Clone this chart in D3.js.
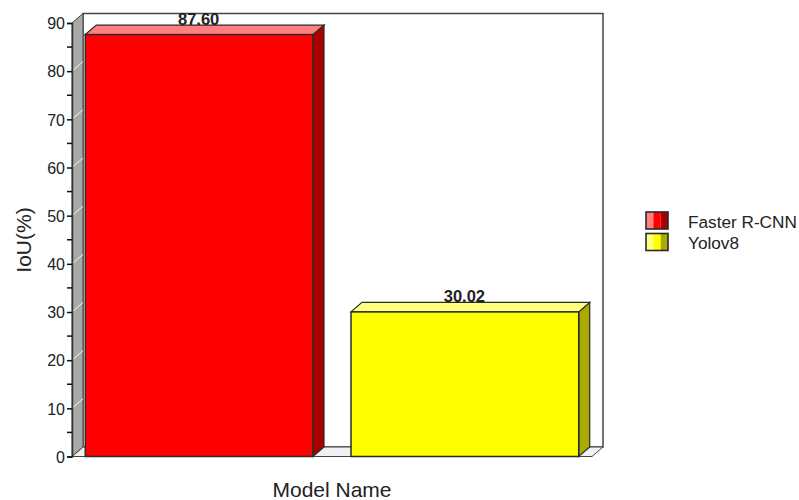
<!DOCTYPE html>
<html>
<head>
<meta charset="utf-8">
<script src="https://cdn.jsdelivr.net/npm/d3@7"></script>
<style>
  html, body { margin: 0; padding: 0; background: #fff; }
  svg { display: block; }
  text { font-family: "Liberation Sans", Arial, sans-serif; fill: #222; }
</style>
</head>
<body>
<svg id="chart" width="799" height="500"></svg>
<script>
const models = ["Faster R-CNN", "Yolov8"];
const iou = [87.60, 30.02];
const frontColors = ["#ff0000", "#ffff00"];
const topColors = ["#ff8080", "#ffff80"];
const sideColors = ["#aa0000", "#aaaa00"];
const yTicks = [0, 10, 20, 30, 40, 50, 60, 70, 80, 90];
const yMinorTicks = [5, 15, 25, 35, 45, 55, 65, 75, 85];
const xTitle = "Model Name";
const yTitle = "IoU(%)";

const depthX = 11, depthY = 9.5;
const stroke = "#2a2a2a";
const svg = d3.select("#chart");

const x = d3.scaleBand().domain(models).range([72, 592]).paddingInner(0.143).paddingOuter(0.05);
const y = d3.scaleLinear().domain([0, 90]).range([456.5, 23]);
const xLeft = x.range()[0], xRight = x.range()[1];
const yBase = y(0), yCeil = y(90);
const poly = pts => pts.map(p => p.join(",")).join(" ");

// Plot box: back wall, left wall and floor
svg.append("rect")
  .attr("x", xLeft + depthX).attr("y", yCeil - depthY)
  .attr("width", xRight - xLeft).attr("height", yBase - yCeil)
  .attr("fill", "#fff").attr("stroke", "#444").attr("stroke-width", 1.5);
svg.append("polygon")
  .attr("points", poly([[xLeft, yBase], [xRight, yBase], [xRight + depthX, yBase - depthY], [xLeft + depthX, yBase - depthY]]))
  .attr("fill", "#f0f0f0").attr("stroke", "#444").attr("stroke-width", 1);
svg.append("polygon")
  .attr("points", poly([[xLeft, yCeil], [xLeft + depthX, yCeil - depthY], [xLeft + depthX, yBase - depthY], [xLeft, yBase]]))
  .attr("fill", "#a8a8a8").attr("stroke", "#444").attr("stroke-width", 1);

// Wall gridlines, running back from each labelled tick
svg.append("g").selectAll("line").data(yTicks.filter(t => t > 0 && t < 90)).join("line")
  .attr("x1", xLeft).attr("x2", xLeft + depthX)
  .attr("y1", d => y(d)).attr("y2", d => y(d) - depthY)
  .attr("stroke", "#f4f4f4").attr("stroke-width", 1);

// Bars: side and top faces behind the front face
const bars = svg.append("g").selectAll("g").data(models).join("g");
bars.append("polygon")
  .attr("points", (d, i) => {
    const xr = x(d) + x.bandwidth(), yt = y(iou[i]);
    return poly([[xr, yt], [xr + depthX, yt - depthY], [xr + depthX, yBase - depthY], [xr, yBase]]);
  })
  .attr("fill", (d, i) => sideColors[i]).attr("stroke", stroke).attr("stroke-width", 1.2);
bars.append("polygon")
  .attr("points", (d, i) => {
    const xl = x(d), xr = xl + x.bandwidth(), yt = y(iou[i]);
    return poly([[xl, yt], [xl + depthX, yt - depthY], [xr + depthX, yt - depthY], [xr, yt]]);
  })
  .attr("fill", (d, i) => topColors[i]).attr("stroke", stroke).attr("stroke-width", 1.2);
bars.append("rect")
  .attr("x", d => x(d)).attr("y", (d, i) => y(iou[i]))
  .attr("width", x.bandwidth()).attr("height", (d, i) => yBase - y(iou[i]))
  .attr("fill", (d, i) => frontColors[i]).attr("stroke", stroke).attr("stroke-width", 1.5);

// Value labels centred over each bar, resting on the top face
bars.append("text")
  .attr("x", d => x(d) + x.bandwidth() / 2 - 0.5)
  .attr("y", (d, i) => y(iou[i]) - depthY)
  .attr("text-anchor", "middle")
  .attr("font-size", 16.5).attr("font-weight", "bold")
  .text((d, i) => d3.format(".2f")(iou[i]));

// Value axis
const axisG = svg.append("g").attr("transform", `translate(${xLeft},0)`);
axisG.call(d3.axisLeft(y).tickValues(yTicks).tickSize(5).tickPadding(2));
axisG.selectAll(".tick text").attr("font-size", 16).style("font-family", '"Liberation Sans", Arial, sans-serif').attr("fill", "#222").attr("dy", "0.36em");
axisG.select(".domain").attr("stroke", "#333").attr("stroke-width", 1.5);
axisG.selectAll(".tick line").attr("stroke", "#111").attr("stroke-width", 1.5);
axisG.selectAll(".minor").data(yMinorTicks).join("line").attr("class", "minor")
  .attr("x1", -5).attr("x2", 0)
  .attr("y1", d => y(d)).attr("y2", d => y(d))
  .attr("stroke", "#111").attr("stroke-width", 1.5);

// Axis titles
svg.append("text").attr("x", 332).attr("y", 497).attr("text-anchor", "middle").attr("font-size", 21).text(xTitle);
svg.append("text").attr("transform", "translate(31,240) rotate(-90)").attr("text-anchor", "middle").attr("font-size", 21).text(yTitle);

// Legend with a three-tone swatch for each model
const legendY = d3.scalePoint().domain(models).range([212, 233.5]);
const swatchX = d3.scaleBand().domain(d3.range(3)).range([646, 668]);
const legend = svg.append("g").selectAll("g").data(models).join("g");
legend.each(function (d, i) {
  const g = d3.select(this);
  const tones = [topColors[i], frontColors[i], sideColors[i]];
  g.selectAll("rect").data(tones).join("rect")
    .attr("x", (c, k) => swatchX(k)).attr("y", legendY(d))
    .attr("width", swatchX.bandwidth()).attr("height", 17)
    .attr("fill", c => c);
  g.append("rect").attr("x", 646).attr("y", legendY(d)).attr("width", 22).attr("height", 17)
    .attr("fill", "none").attr("stroke", stroke).attr("stroke-width", 1.6);
  g.append("text").attr("x", 688).attr("y", legendY(d) + 15.5).attr("font-size", 17.2).text(d);
});
</script>
</body>
</html>
